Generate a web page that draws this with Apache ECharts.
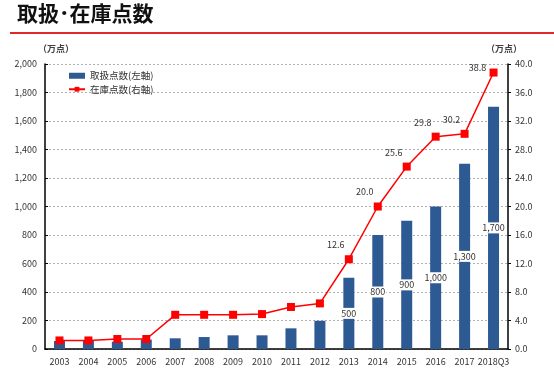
<!DOCTYPE html>
<html><head><meta charset="utf-8">
<script src="https://cdn.jsdelivr.net/npm/echarts@6/dist/echarts.min.js"></script>
<style>html,body{margin:0;padding:0;background:#fff}#c{width:554px;height:389px}</style>
</head><body><div id="c"></div>
<script>
const categories = ['2003','2004','2005','2006','2007','2008','2009','2010','2011','2012','2013','2014','2015','2016','2017','2018Q3'];
const handled = [56,56,51,66,75,84,96,96,145,198,500,800,900,1000,1300,1700];
const stock = [1.2,1.2,1.4,1.4,4.8,4.8,4.8,4.9,5.9,6.4,12.6,20.0,25.6,29.8,30.2,38.8];
const labelFrom = 10;
const leftTicks = {min:0,max:2000,interval:200};
const rightTicks = {min:0,max:40,interval:4};

const comma = v => String(v).replace(/\B(?=(\d{3})+(?!\d))/g, ',');
const FONT = '"Noto Sans CJK JP", "Noto Sans", sans-serif';
const chart = echarts.init(document.getElementById('c'));
chart.setOption({
  animation:false,
  textStyle:{fontFamily:FONT},
  grid:{left:45,right:46,top:64,bottom:40},
  graphic:[
    {type:'text',left:17,top:3,style:{text:'取扱･在庫点数',font:'bold 21px '+FONT,fill:'#111'}},
    {type:'rect',shape:{x:10,y:32,width:544,height:2},style:{fill:'#e3262a'}},
    {type:'text',left:38,top:44,style:{text:'（万点）',font:'bold 9px '+FONT,fill:'#404040'}},
    {type:'text',left:486,top:44,style:{text:'（万点）',font:'bold 9px '+FONT,fill:'#404040'}}
  ],
  legend:{
    orient:'vertical',left:63,top:66,itemGap:4,itemWidth:16,itemHeight:6,
    textStyle:{fontSize:9.5,color:'#333',fontFamily:FONT},
    data:[{name:'取扱点数(左軸)',icon:'rect'},{name:'在庫点数(右軸)'}]
  },
  xAxis:{
    type:'category',data:categories,
    axisLine:{lineStyle:{color:'#000',width:1.5}},
    axisTick:{show:false},
    axisLabel:{color:'#333',fontSize:9,margin:8,interval:0}
  },
  yAxis:[
    {type:'value',min:leftTicks.min,max:leftTicks.max,interval:leftTicks.interval,
     axisLine:{show:true,lineStyle:{color:'#000',width:1.5}},
     axisTick:{show:true,inside:true,length:3,lineStyle:{color:'#000'}},
     axisLabel:{color:'#333',fontSize:9,margin:8,formatter:v=>comma(v)},
     splitLine:{lineStyle:{color:'#b0b0b0',type:[2,2]}}},
    {type:'value',min:rightTicks.min,max:rightTicks.max,interval:rightTicks.interval,
     axisLine:{show:true,lineStyle:{color:'#000',width:1.5}},
     axisTick:{show:true,length:3,lineStyle:{color:'#000'}},
     axisLabel:{color:'#333',fontSize:9,margin:7,formatter:v=>v.toFixed(1)},
     splitLine:{show:false}}
  ],
  series:[
    {name:'取扱点数(左軸)',type:'bar',yAxisIndex:0,barWidth:11,
     itemStyle:{color:'#2e5a94'},
     data:handled.map((v,i)=>({value:v,label:{show:i>=labelFrom}})),
     label:{position:'inside',color:'#333',fontSize:9,backgroundColor:'#fff',padding:[1,1],
       formatter:p=>comma(p.value)}},
    {name:'在庫点数(右軸)',type:'line',yAxisIndex:1,
     symbol:'rect',symbolSize:8,
     lineStyle:{color:'#ff0000',width:1.5},itemStyle:{color:'#ff0000'},
     data:stock.map((v,i)=>({value:v,label:{show:i>=labelFrom,
       offset: i===stock.length-1?[-16,10]:[-13,0]}})),
     label:{position:'top',distance:6,color:'#333',fontSize:9,formatter:p=>p.value.toFixed(1)}}
  ]
});
</script></body></html>
